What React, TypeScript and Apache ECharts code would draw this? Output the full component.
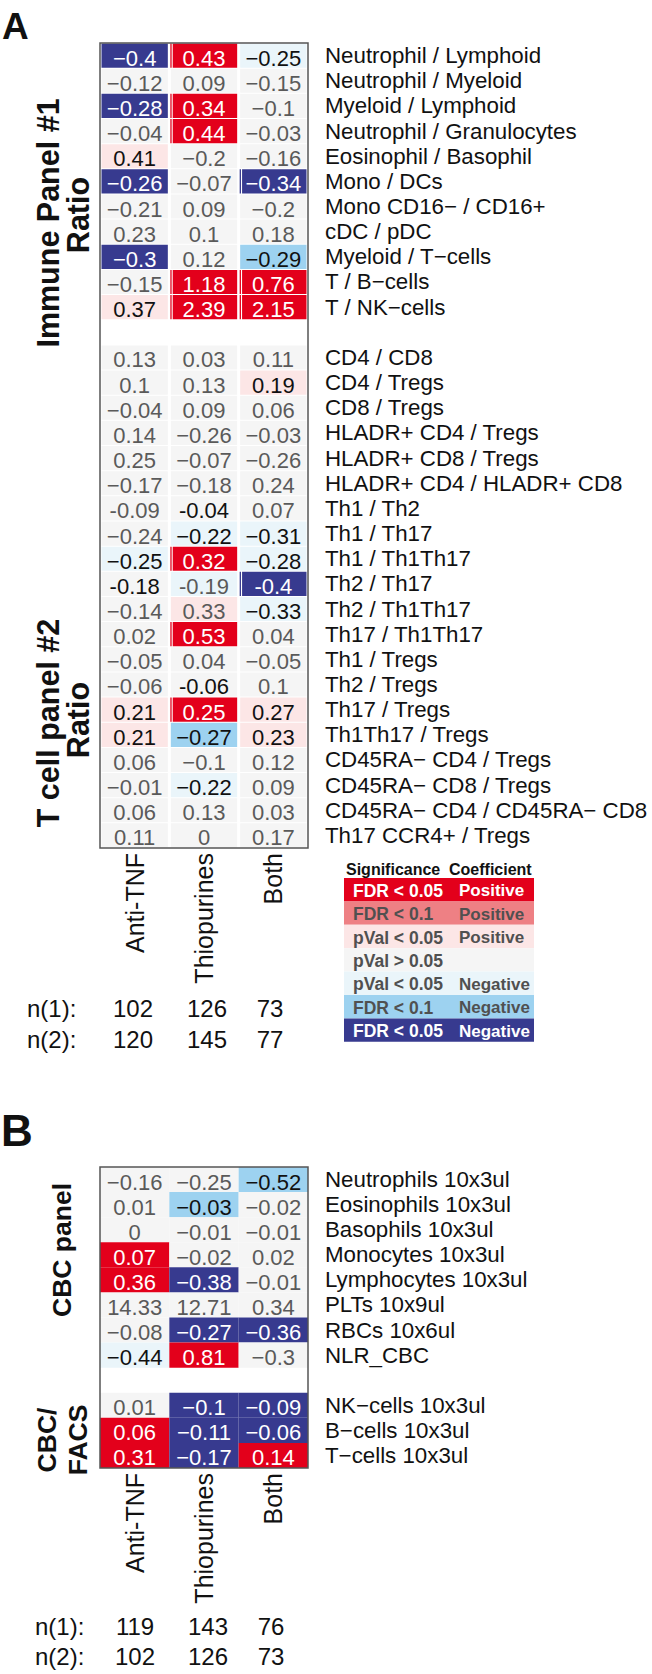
import React, { useEffect, useRef } from 'react';
import * as echarts from 'echarts';

const FONT = '"Liberation Sans", Arial, Helvetica, sans-serif';

// ---------------- DATA ----------------
const treatments = ['Anti-TNF', 'Thiopurines', 'Both'];

const immuneRows = [
  'Neutrophil / Lymphoid', 'Neutrophil / Myeloid', 'Myeloid / Lymphoid', 'Neutrophil / Granulocytes',
  'Eosinophil / Basophil', 'Mono / DCs', 'Mono CD16− / CD16+', 'cDC / pDC', 'Myeloid / T−cells',
  'T / B−cells', 'T / NK−cells',
];
const immuneValues = [
  ['−0.4', '0.43', '−0.25'], ['−0.12', '0.09', '−0.15'], ['−0.28', '0.34', '−0.1'], ['−0.04', '0.44', '−0.03'],
  ['0.41', '−0.2', '−0.16'], ['−0.26', '−0.07', '−0.34'], ['−0.21', '0.09', '−0.2'], ['0.23', '0.1', '0.18'],
  ['−0.3', '0.12', '−0.29'], ['−0.15', '1.18', '0.76'], ['0.37', '2.39', '2.15'],
];
const immuneSig = [
  ['N1', 'P1', 'N3'], ['NS', 'NS', 'NS'], ['N1', 'P1', 'NS'], ['NS', 'P1', 'NS'],
  ['P3', 'NS', 'NS'], ['N1', 'NS', 'N1'], ['NS', 'NS', 'NS'], ['NS', 'NS', 'NS'],
  ['N1', 'NS', 'N2'], ['NS', 'P1', 'P1'], ['P3', 'P1', 'P1'],
];

const tcellRows = [
  'CD4 / CD8', 'CD4 / Tregs', 'CD8 / Tregs', 'HLADR+ CD4 / Tregs', 'HLADR+ CD8 / Tregs',
  'HLADR+ CD4 / HLADR+ CD8', 'Th1 / Th2', 'Th1 / Th17', 'Th1 / Th1Th17', 'Th2 / Th17', 'Th2 / Th1Th17',
  'Th17 / Th1Th17', 'Th1 / Tregs', 'Th2 / Tregs', 'Th17 / Tregs', 'Th1Th17 / Tregs',
  'CD45RA− CD4 / Tregs', 'CD45RA− CD8 / Tregs', 'CD45RA− CD4 / CD45RA− CD8', 'Th17 CCR4+ / Tregs',
];
const tcellValues = [
  ['0.13', '0.03', '0.11'], ['0.1', '0.13', '0.19'], ['−0.04', '0.09', '0.06'], ['0.14', '−0.26', '−0.03'],
  ['0.25', '−0.07', '−0.26'], ['−0.17', '−0.18', '0.24'], ['-0.09', '-0.04', '0.07'], ['−0.24', '−0.22', '−0.31'],
  ['−0.25', '0.32', '−0.28'], ['-0.18', '-0.19', '-0.4'], ['−0.14', '0.33', '−0.33'], ['0.02', '0.53', '0.04'],
  ['−0.05', '0.04', '−0.05'], ['−0.06', '-0.06', '0.1'], ['0.21', '0.25', '0.27'], ['0.21', '−0.27', '0.23'],
  ['0.06', '−0.1', '0.12'], ['−0.01', '−0.22', '0.09'], ['0.06', '0.13', '0.03'], ['0.11', '0', '0.17'],
];
const tcellSig = [
  ['NS', 'NS', 'NS'], ['NS', 'NS', 'P3'], ['NS', 'NS', 'NS'], ['NS', 'NS', 'NS'],
  ['NS', 'NS', 'NS'], ['NS', 'NS', 'NS'], ['NS', 'NS', 'NS'], ['NS', 'N3', 'N3'],
  ['N3', 'P1', 'N3'], ['NS', 'N3', 'N1'], ['NS', 'P3', 'N3'], ['NS', 'P1', 'NS'],
  ['NS', 'NS', 'NS'], ['NS', 'NS', 'NS'], ['P3', 'P1', 'P3'], ['P3', 'N2', 'P3'],
  ['NS', 'NS', 'NS'], ['NS', 'N3', 'NS'], ['NS', 'NS', 'NS'], ['NS', 'NS', 'NS'],
];
// text tone exceptions: [row, col, tone]
const tcellToneOverrides = [
  [6, 1, 'k'], [9, 0, 'k'], [9, 1, 'g'], [10, 1, 'g'], [13, 1, 'k'],
];

const cbcRows = [
  'Neutrophils 10x3ul', 'Eosinophils 10x3ul', 'Basophils 10x3ul', 'Monocytes 10x3ul',
  'Lymphocytes 10x3ul', 'PLTs 10x9ul', 'RBCs 10x6ul', 'NLR_CBC',
];
const cbcValues = [
  ['−0.16', '−0.25', '−0.52'], ['0.01', '−0.03', '−0.02'], ['0', '−0.01', '−0.01'], ['0.07', '−0.02', '0.02'],
  ['0.36', '−0.38', '−0.01'], ['14.33', '12.71', '0.34'], ['−0.08', '−0.27', '−0.36'], ['−0.44', '0.81', '−0.3'],
];
const cbcSig = [
  ['NS', 'NS', 'N2'], ['NS', 'N2', 'NS'], ['NS', 'NS', 'NS'], ['P1', 'NS', 'NS'],
  ['P1', 'N1', 'NS'], ['NS', 'NS', 'NS'], ['NS', 'N1', 'N1'], ['N3', 'P1', 'NS'],
];

const facsRows = ['NK−cells 10x3ul', 'B−cells 10x3ul', 'T−cells 10x3ul'];
const facsValues = [['0.01', '−0.1', '−0.09'], ['0.06', '−0.11', '−0.06'], ['0.31', '−0.17', '0.14']];
const facsSig = [['NS', 'N1', 'N1'], ['P1', 'N1', 'N1'], ['P1', 'N1', 'P1']];

const nA1 = [102, 126, 73];
const nA2 = [120, 145, 77];
const nB1 = [119, 143, 76];
const nB2 = [102, 126, 73];

const legendCodes = ['P1', 'P2', 'P3', 'NS', 'N3', 'N2', 'N1'];
const legendSignificance = ['FDR < 0.05', 'FDR < 0.1', 'pVal < 0.05', 'pVal > 0.05', 'pVal < 0.05', 'FDR < 0.1', 'FDR < 0.05'];
const legendCoefficient = ['Positive', 'Positive', 'Positive', '', 'Negative', 'Negative', 'Negative'];

// ---------------- STYLE ----------------
const SIG_FILL: Record<string, string> = {
  P1: '#E3001B', P2: '#EE8084', P3: '#FCE6E6', NS: '#F5F5F5', N3: '#EAF5FA', N2: '#9DD2F0', N1: '#373A8F',
};
const DEFAULT_TONE: Record<string, string> = { P1: 'w', P2: 'g', P3: 'k', NS: 'g', N3: 'k', N2: 'k', N1: 'w' };
const TONE: Record<string, string> = { w: '#FFFFFF', k: '#111111', g: '#5A5A5A' };
const LEGEND_TEXT: Record<string, string> = { P1: '#FFFFFF', P2: '#505050', P3: '#505050', NS: '#505050', N3: '#505050', N2: '#505050', N1: '#FFFFFF' };

const GRID_A = { left: 100, top: 43, width: 208, height: 805 };
const GRID_B = { left: 100, top: 1167, width: 208, height: 301 };

type Cell = { x: number; y: number; text: string; sig: string; tone: string };

function buildCells(blocks: { values: string[][]; sig: string[][]; offset: number; overrides?: any[] }[]): Cell[] {
  const out: Cell[] = [];
  blocks.forEach((b) => {
    b.values.forEach((row, r) => {
      row.forEach((txt, c) => {
        const sig = b.sig[r][c];
        let tone = DEFAULT_TONE[sig];
        (b.overrides || []).forEach((o) => {
          if (o[0] === r && o[1] === c) tone = o[2];
        });
        out.push({ x: c, y: r + b.offset, text: txt, sig, tone });
      });
    });
  });
  return out;
}

function cellSeries(cells: Cell[], idx: number, gapped: boolean) {
  return {
    type: 'custom',
    xAxisIndex: idx,
    yAxisIndex: idx,
    data: cells.map((c) => [c.x, c.y]),
    renderItem: (params: any, api: any) => {
      const cell = cells[params.dataIndex];
      const p = api.coord([api.value(0), api.value(1)]);
      const s = api.size([1, 1]);
      const left = p[0] - s[0] / 2;
      const top = p[1] - s[1] / 2;
      const fill = SIG_FILL[cell.sig];
      const children: any[] = [];
      if (gapped) {
        const seam = cell.x > 0 && (cell.sig === 'P1' || cell.sig === 'N1');
        const insetL = seam ? 3.4 : 1.5;
        children.push({
          type: 'rect',
          shape: { x: left + insetL, y: top + 0.5, width: s[0] - insetL - 1.5, height: s[1] - 1 },
          style: { fill },
        });
        if (seam) {
          children.push({
            type: 'rect',
            shape: { x: left + 1, y: top + 0.5, width: 1.3, height: s[1] - 1 },
            style: { fill },
          });
        }
      } else {
        children.push({
          type: 'rect',
          shape: { x: left, y: top, width: s[0], height: s[1] },
          style: { fill },
        });
      }
      children.push({
        type: 'text',
        x: p[0],
        y: p[1] + 2.5,
        style: {
          text: cell.text,
          fill: TONE[cell.tone],
          font: `22px ${FONT}`,
          align: 'center',
          verticalAlign: 'middle',
        },
      });
      return { type: 'group', children };
    },
  };
}

function App() {
  const ref = useRef<HTMLDivElement>(null);
  useEffect(() => {
    if (!ref.current) return;
    const chart = echarts.init(ref.current, null, { renderer: 'svg' });

    const catsA = [...immuneRows, ' ', ...tcellRows];
    const catsB = [...cbcRows, ' ', ...facsRows];
    const cellsA = buildCells([
      { values: immuneValues, sig: immuneSig, offset: 0 },
      { values: tcellValues, sig: tcellSig, offset: immuneRows.length + 1, overrides: tcellToneOverrides },
    ]);
    const cellsB = buildCells([
      { values: cbcValues, sig: cbcSig, offset: 0 },
      { values: facsValues, sig: facsSig, offset: cbcRows.length + 1 },
    ]);

    const xAxisBase = {
      type: 'category',
      data: treatments,
      position: 'bottom',
      axisLine: { show: false },
      axisTick: { show: false },
      splitLine: { show: false },
      axisLabel: { rotate: 90, margin: 5, fontSize: 25, color: '#111', fontFamily: FONT, interval: 0 },
    };
    const yAxisBase = {
      type: 'category',
      position: 'right',
      inverse: true,
      axisLine: { show: false },
      axisTick: { show: false },
      splitLine: { show: false },
      axisLabel: { margin: 17, fontSize: 22.3, color: '#111', fontFamily: FONT, interval: 0, padding: [4, 0, 0, 0] },
    };

    const graphics: any[] = [];
    const txt = (text: string, x: number, y: number, size: number, opts: any = {}) => ({
      type: 'text',
      x,
      y,
      rotation: opts.rotation || 0,
      z: 100,
      style: {
        text,
        fill: opts.fill || '#111',
        font: `${opts.bold ? 'bold ' : ''}${size}px ${FONT}`,
        align: opts.align || 'left',
        verticalAlign: 'middle',
      },
    });
    // panel letters
    graphics.push(txt('A', 2, 26, 37, { bold: true }));
    graphics.push(txt('B', 1, 1130, 44, { bold: true }));
    // group labels
    const R = Math.PI / 2;
    graphics.push(txt('Immune Panel #1', 48, 223, 30.5, { bold: true, rotation: R, align: 'center' }));
    graphics.push(txt('Ratio', 78, 215, 30.5, { bold: true, rotation: R, align: 'center' }));
    graphics.push(txt('T cell panel #2', 48, 723, 30.5, { bold: true, rotation: R, align: 'center' }));
    graphics.push(txt('Ratio', 78, 720, 30.5, { bold: true, rotation: R, align: 'center' }));
    graphics.push(txt('CBC panel', 62, 1250, 26.5, { bold: true, rotation: R, align: 'center' }));
    graphics.push(txt('CBC/', 47, 1440, 26.5, { bold: true, rotation: R, align: 'center' }));
    graphics.push(txt('FACS', 78, 1440, 26.5, { bold: true, rotation: R, align: 'center' }));
    // grid borders
    [GRID_A, GRID_B].forEach((g) => {
      graphics.push({
        type: 'rect',
        z: 100,
        shape: { x: g.left, y: g.top, width: g.width, height: g.height },
        style: { fill: 'none', stroke: '#555555', lineWidth: 1.5 },
      });
    });
    // sample sizes
    const nXA = [133, 207, 270];
    const nXB = [135, 208, 271];
    graphics.push(txt('n(1):', 27, 1008, 24));
    graphics.push(txt('n(2):', 27, 1039, 24));
    nA1.forEach((v, i) => graphics.push(txt(String(v), nXA[i], 1008, 24, { align: 'center' })));
    nA2.forEach((v, i) => graphics.push(txt(String(v), nXA[i], 1039, 24, { align: 'center' })));
    graphics.push(txt('n(1):', 35, 1626, 24));
    graphics.push(txt('n(2):', 35, 1656, 24));
    nB1.forEach((v, i) => graphics.push(txt(String(v), nXB[i], 1626, 24, { align: 'center' })));
    nB2.forEach((v, i) => graphics.push(txt(String(v), nXB[i], 1656, 24, { align: 'center' })));
    // legend
    const LX = 344, LW = 190, LT = 878, LH = 23.4;
    graphics.push(txt('Significance', 346, 869, 16, { bold: true }));
    graphics.push(txt('Coefficient', 449, 869, 16, { bold: true }));
    legendCodes.forEach((code, i) => {
      graphics.push({
        type: 'rect',
        z: 90,
        shape: { x: LX, y: LT + i * LH, width: LW, height: LH },
        style: { fill: SIG_FILL[code] },
      });
      const cy = LT + i * LH + LH / 2 + 1;
      graphics.push(txt(legendSignificance[i], 353, cy, 17.5, { bold: true, fill: LEGEND_TEXT[code] }));
      if (legendCoefficient[i]) graphics.push(txt(legendCoefficient[i], 459, cy, 17, { bold: true, fill: LEGEND_TEXT[code] }));
    });

    chart.setOption({
      animation: false,
      backgroundColor: '#FFFFFF',
      grid: [
        { ...GRID_A, containLabel: false },
        { ...GRID_B, containLabel: false },
      ],
      xAxis: [
        { ...xAxisBase, gridIndex: 0 },
        { ...xAxisBase, gridIndex: 1 },
      ],
      yAxis: [
        { ...yAxisBase, gridIndex: 0, data: catsA },
        { ...yAxisBase, gridIndex: 1, data: catsB },
      ],
      series: [cellSeries(cellsA, 0, true), cellSeries(cellsB, 1, false)],
      graphic: graphics,
    });
    return () => chart.dispose();
  }, []);
  return <div ref={ref} style={{ position: 'absolute', left: 0, top: 0, width: 652, height: 1674 }} />;
}

export default App;
